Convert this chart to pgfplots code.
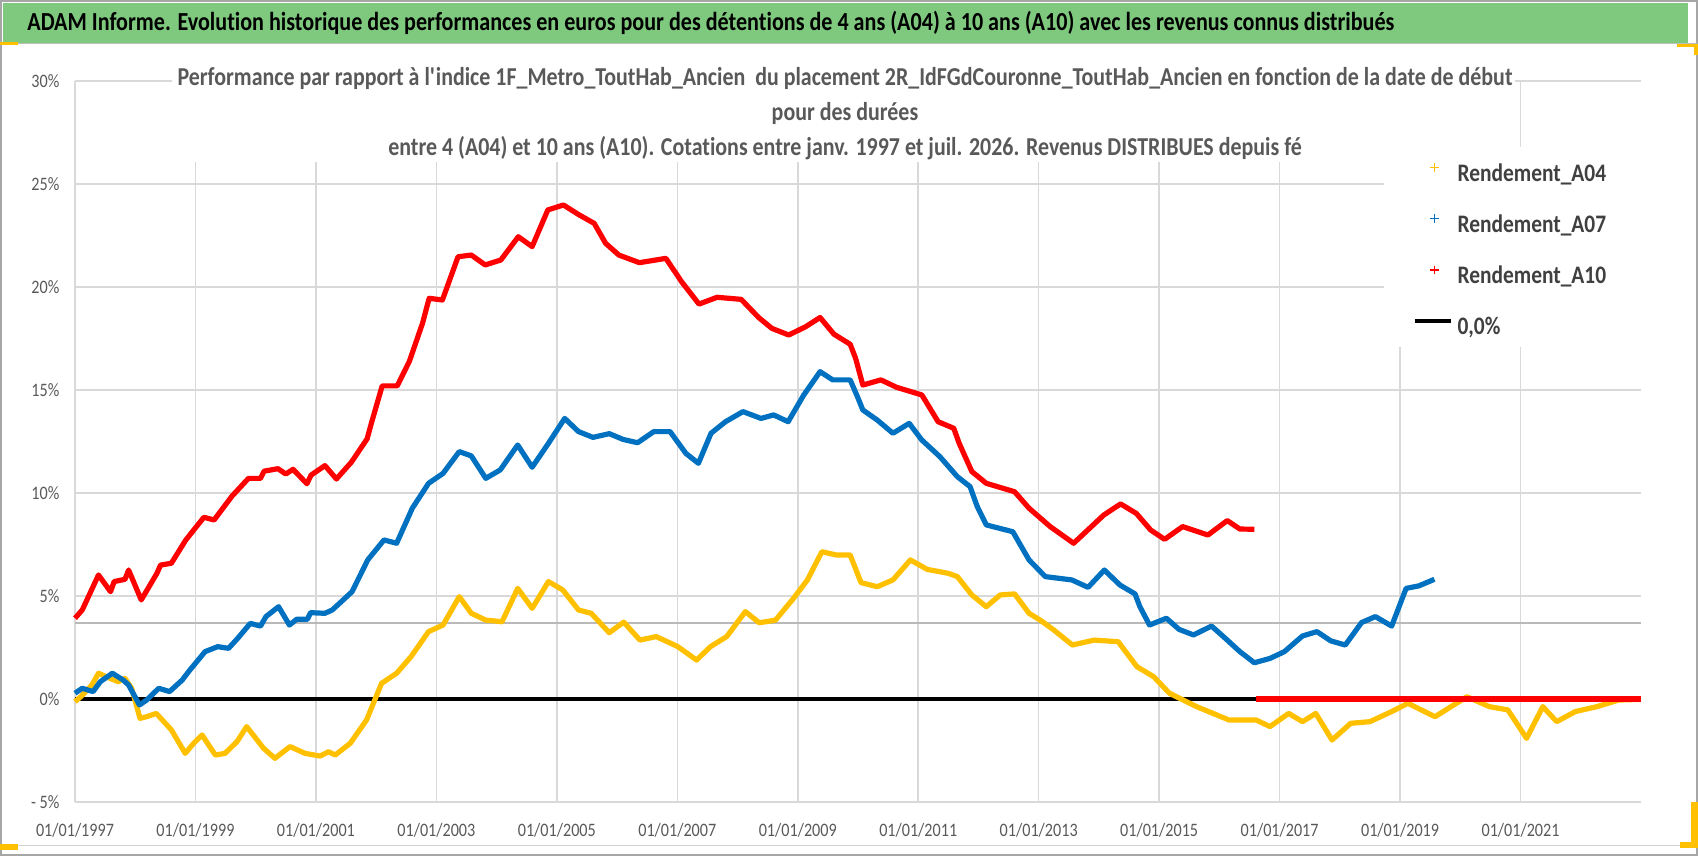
\documentclass[border=0pt]{standalone}
\usepackage{pgfplots}
\pgfplotsset{compat=1.18}
\usepackage{fontspec}
\setmainfont{Carlito}[FakeStretch=0.85, Ligatures=NoCommon]
\definecolor{cA04}{HTML}{FFC000}
\definecolor{cA07}{HTML}{0070C0}
\definecolor{cA10}{HTML}{FF0000}
\definecolor{txtgray}{HTML}{595959}
\definecolor{leggray}{HTML}{404040}
\definecolor{gridgray}{HTML}{D9D9D9}
\definecolor{bannergreen}{HTML}{7FC97F}
\definecolor{handle}{HTML}{FFC000}
\begin{document}
\begin{tikzpicture}
\path[use as bounding box] (0,0) rectangle (849pt,428pt);
\draw[gray!70, line width=0.75pt] (0.4pt,0.4pt) rectangle (848.6pt,427.6pt);
\draw[gray!35, line width=0.5pt] (0.4pt,5pt) -- (848.6pt,5pt);
\fill[bannergreen] (1.5pt,406.5pt) rectangle (844pt,426.5pt);
\draw[gray!50, line width=0.5pt] (1.5pt,406pt) -- (848.6pt,406pt);
\node[anchor=west, font=\fontsize{13}{15}\bfseries\selectfont, text=black, inner sep=0pt] at (13.5pt,416.5pt) {ADAM Informe. Evolution historique des performances en euros pour des détentions de 4 ans (A04) à 10 ans (A10) avec les revenus connus distribués};
\begin{axis}[
  at={(37.5pt,27pt)}, anchor=south west,
  width=783pt, height=360.5pt, scale only axis,
  xmin=1997, xmax=2023.0, ymin=-5, ymax=30,
  clip=false,
  axis line style={draw=none},
  xtick={1997,1999,...,2021},
  xticklabels={01/01/1997,01/01/1999,01/01/2001,01/01/2003,01/01/2005,01/01/2007,01/01/2009,01/01/2011,01/01/2013,01/01/2015,01/01/2017,01/01/2019,01/01/2021},
  ytick={-5,0,5,10,15,20,25,30},
  yticklabels={- 5\%,0\%,5\%,10\%,15\%,20\%,25\%,30\%},
  major tick length=0pt,
  grid=major,
  major grid style={gridgray, line width=0.75pt},
  tick label style={font=\fontsize{9.5}{11}\selectfont, text=txtgray},
  xticklabel style={yshift=-7.2pt},
  yticklabel style={xshift=-4.3pt},
  legend cell align=left,
  legend style={at={(axis cs:2019.2,26.05)}, anchor=north west, draw=none, fill=none,
    font=\fontsize{12.6}{15}\bfseries\selectfont, text=leggray,
    row sep=13.5pt, column sep=2.5pt, inner sep=0pt,
    nodes={inner sep=0pt, anchor=west, text height=9pt, text depth=3pt}},
]
\fill[white] (axis cs:1998.61,26.07) rectangle (axis cs:2020.90,30.6);
\fill[white] (axis cs:2018.74,17.09) rectangle (axis cs:2023.1,26.8);
\addplot[black, line width=2pt, forget plot] coordinates {(1997,0) (2023,0)};
\addplot[gray!55, line width=0.75pt, forget plot] coordinates {(1997,3.7) (2023,3.7)};
\addplot[cA04, line width=2.6pt, line join=round,
  legend image code/.code={\draw[cA04, line width=0.6pt, mark=+, mark size=2.2pt, mark options={line width=0.6pt}] plot coordinates {(10pt,4pt)};}]
coordinates {
(1997.00,-0.13) (1997.11,0.15) (1997.28,0.68) (1997.39,1.25) (1997.58,1.00) (1997.72,0.84) (1997.83,1.00) (1997.94,0.52)
(1998.08,-0.94) (1998.19,-0.86) (1998.35,-0.70) (1998.60,-1.50) (1998.83,-2.64) (1998.97,-2.15) (1999.11,-1.75) (1999.33,-2.72)
(1999.49,-2.64) (1999.69,-2.07) (1999.85,-1.34) (2000.13,-2.39) (2000.32,-2.88) (2000.57,-2.31) (2000.82,-2.64) (2001.07,-2.77)
(2001.21,-2.56) (2001.32,-2.72) (2001.57,-2.15) (2001.84,-1.02) (2002.09,0.76) (2002.34,1.25) (2002.58,2.06) (2002.87,3.27)
(2003.11,3.59) (2003.38,4.97) (2003.58,4.16) (2003.82,3.83) (2004.09,3.75) (2004.35,5.37) (2004.59,4.40) (2004.86,5.70)
(2005.10,5.29) (2005.36,4.32) (2005.57,4.16) (2005.87,3.22) (2006.11,3.73) (2006.38,2.86) (2006.65,3.03) (2007.01,2.54)
(2007.32,1.89) (2007.55,2.54) (2007.82,3.03) (2008.13,4.24) (2008.36,3.70) (2008.63,3.83) (2008.92,4.85) (2009.16,5.78)
(2009.40,7.15) (2009.64,6.99) (2009.87,6.99) (2010.05,5.65) (2010.32,5.45) (2010.58,5.78) (2010.87,6.75) (2011.15,6.29)
(2011.50,6.10) (2011.65,5.94) (2011.89,5.05) (2012.13,4.48) (2012.36,5.05) (2012.60,5.10) (2012.84,4.16) (2013.04,3.80)
(2013.25,3.35) (2013.56,2.62) (2013.92,2.86) (2014.32,2.78) (2014.63,1.57) (2014.91,1.08) (2015.17,0.28) (2015.62,-0.37)
(2016.16,-1.02) (2016.61,-1.02) (2016.84,-1.34) (2017.15,-0.70) (2017.38,-1.10) (2017.60,-0.70) (2017.87,-1.99) (2018.18,-1.18)
(2018.50,-1.10) (2018.86,-0.61) (2019.13,-0.21) (2019.58,-0.86) (2020.11,0.11) (2020.48,-0.37) (2020.79,-0.53) (2021.10,-1.91)
(2021.37,-0.37) (2021.60,-1.10) (2021.91,-0.61) (2022.27,-0.37) (2022.63,-0.05) (2022.99,-0.02)
};
\addlegendentry{Rendement\_A04}
\addplot[cA07, line width=2.6pt, line join=round,
  legend image code/.code={\draw[cA07, line width=0.6pt, mark=+, mark size=2.2pt, mark options={line width=0.6pt}] plot coordinates {(10pt,4pt)};}]
coordinates {
(1997.00,0.28) (1997.12,0.52) (1997.30,0.36) (1997.42,0.84) (1997.62,1.25) (1997.80,0.92) (1997.89,0.68) (1998.07,-0.29)
(1998.19,-0.05) (1998.39,0.52) (1998.57,0.36) (1998.78,0.92) (1998.90,1.38) (1999.16,2.30) (1999.37,2.54) (1999.55,2.46)
(1999.70,2.94) (1999.91,3.67) (2000.08,3.54) (2000.17,4.00) (2000.38,4.48) (2000.56,3.59) (2000.68,3.87) (2000.86,3.87)
(2000.91,4.19) (2001.15,4.16) (2001.27,4.32) (2001.42,4.72) (2001.60,5.21) (2001.86,6.75) (2002.13,7.72) (2002.34,7.56)
(2002.60,9.26) (2002.87,10.47) (2003.11,10.95) (2003.38,12.01) (2003.58,11.80) (2003.82,10.71) (2004.06,11.12) (2004.35,12.33)
(2004.59,11.25) (2004.86,12.41) (2005.13,13.62) (2005.36,12.98) (2005.60,12.70) (2005.87,12.88) (2006.10,12.60) (2006.34,12.44)
(2006.61,12.98) (2006.88,12.98) (2007.14,11.93) (2007.35,11.44) (2007.56,12.90) (2007.80,13.46) (2008.09,13.95) (2008.39,13.62)
(2008.60,13.79) (2008.84,13.46) (2009.10,14.76) (2009.37,15.89) (2009.58,15.49) (2009.87,15.49) (2009.99,14.68) (2010.08,14.03)
(2010.32,13.54) (2010.58,12.90) (2010.85,13.38) (2011.06,12.57) (2011.36,11.76) (2011.65,10.79) (2011.86,10.31) (2011.98,9.34)
(2012.13,8.45) (2012.57,8.12) (2012.84,6.75) (2013.11,5.94) (2013.55,5.78) (2013.82,5.42) (2014.09,6.26) (2014.35,5.53)
(2014.60,5.10) (2014.68,4.48) (2014.84,3.59) (2015.12,3.92) (2015.33,3.38) (2015.57,3.11) (2015.87,3.54) (2016.10,2.94)
(2016.34,2.30) (2016.58,1.76) (2016.84,1.97) (2017.08,2.30) (2017.38,3.06) (2017.62,3.27) (2017.85,2.82) (2018.09,2.62)
(2018.36,3.71) (2018.59,4.00) (2018.86,3.54) (2019.10,5.37) (2019.31,5.49) (2019.57,5.81)
};
\addlegendentry{Rendement\_A07}
\addplot[cA10, line width=2.6pt, line join=round,
  legend image code/.code={\draw[cA10, line width=0.6pt, mark=+, mark size=2.2pt, mark options={line width=0.6pt}] plot coordinates {(10pt,4pt)};}]
coordinates {
(1997.00,3.92) (1997.12,4.32) (1997.39,6.02) (1997.59,5.21) (1997.65,5.70) (1997.83,5.81) (1997.89,6.26) (1998.10,4.81)
(1998.36,6.10) (1998.42,6.50) (1998.60,6.59) (1998.84,7.72) (1999.14,8.82) (1999.31,8.69) (1999.61,9.86) (1999.88,10.71)
(2000.08,10.71) (2000.14,11.06) (2000.37,11.18) (2000.50,10.92) (2000.62,11.15) (2000.85,10.45) (2000.92,10.87) (2001.15,11.33)
(2001.34,10.68) (2001.59,11.50) (2001.85,12.63) (2001.92,13.38) (2002.10,15.20) (2002.35,15.20) (2002.55,16.38) (2002.77,18.24)
(2002.88,19.45) (2003.10,19.37) (2003.36,21.47) (2003.58,21.55) (2003.81,21.07) (2004.07,21.31) (2004.36,22.44) (2004.59,21.96)
(2004.85,23.74) (2005.11,23.98) (2005.37,23.50) (2005.62,23.09) (2005.81,22.12) (2006.03,21.55) (2006.37,21.18) (2006.81,21.39)
(2007.07,20.26) (2007.36,19.17) (2007.66,19.50) (2008.06,19.40) (2008.35,18.52) (2008.57,17.99) (2008.85,17.67) (2009.13,18.07)
(2009.37,18.52) (2009.60,17.71) (2009.87,17.22) (2009.96,16.54) (2010.02,15.89) (2010.08,15.24) (2010.38,15.49) (2010.64,15.13)
(2011.06,14.76) (2011.33,13.46) (2011.59,13.14) (2011.68,12.41) (2011.89,11.04) (2012.13,10.47) (2012.60,10.06) (2012.84,9.26)
(2013.19,8.37) (2013.58,7.56) (2014.08,8.93) (2014.36,9.47) (2014.62,9.01) (2014.86,8.20) (2015.09,7.75) (2015.39,8.37)
(2015.81,7.96) (2016.13,8.66) (2016.34,8.25) (2016.58,8.24)
};
\addlegendentry{Rendement\_A10}
\addplot[cA10, line width=2.6pt, forget plot] coordinates {(2016.60,0) (2023.0,0)};
\addlegendimage{black, line width=2pt, legend image code/.code={\draw[black, line width=2pt] (0pt,4pt) -- (18pt,4pt);}}
\addlegendentry{0,0\%}
\end{axis}
\node[align=center, font=\fontsize{12.9}{17.5}\bfseries\selectfont, text=txtgray, inner sep=0pt] at (422.5pt,371pt) {Performance par rapport à l\textquotesingle indice 1F\_Metro\_ToutHab\_Ancien\ \ du placement 2R\_IdFGdCouronne\_ToutHab\_Ancien en fonction de la date de début\\pour des durées\\entre 4 (A04) et 10 ans (A10). Cotations entre janv. 1997 et juil. 2026. Revenus DISTRIBUES depuis fé};
% selection handles
\fill[handle] (0pt,405.5pt) rectangle (9pt,407pt);
\fill[handle] (0pt,3pt) rectangle (9pt,6pt);
\fill[handle] (838.5pt,404.5pt) rectangle (848pt,406pt);
\fill[handle] (847pt,400.5pt) rectangle (849pt,406pt);
\fill[handle] (845.5pt,5pt) rectangle (849pt,27pt);
\fill[handle] (840pt,4pt) rectangle (849pt,7pt);
\end{tikzpicture}
\end{document}
